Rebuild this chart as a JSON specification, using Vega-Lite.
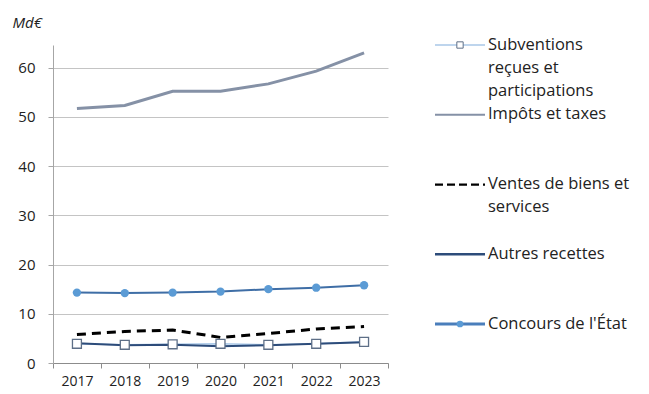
{
  "$schema": "https://vega.github.io/schema/vega-lite/v6.json",
  "padding": {"left": 12, "top": 15, "right": 0, "bottom": 0},
  "background": "white",
  "config": {"view": {"stroke": null}, "font": "Open Sans", "concat": {"spacing": 44}},
  "datasets": {
    "main": [
      {"year": "2017", "series": "Impôts et taxes", "value": 51.7},
      {"year": "2018", "series": "Impôts et taxes", "value": 52.3},
      {"year": "2019", "series": "Impôts et taxes", "value": 55.2},
      {"year": "2020", "series": "Impôts et taxes", "value": 55.2},
      {"year": "2021", "series": "Impôts et taxes", "value": 56.7},
      {"year": "2022", "series": "Impôts et taxes", "value": 59.3},
      {"year": "2023", "series": "Impôts et taxes", "value": 63.0},
      {"year": "2017", "series": "Concours de l'État", "value": 14.3},
      {"year": "2018", "series": "Concours de l'État", "value": 14.2},
      {"year": "2019", "series": "Concours de l'État", "value": 14.3},
      {"year": "2020", "series": "Concours de l'État", "value": 14.5},
      {"year": "2021", "series": "Concours de l'État", "value": 15.0},
      {"year": "2022", "series": "Concours de l'État", "value": 15.3},
      {"year": "2023", "series": "Concours de l'État", "value": 15.8},
      {"year": "2017", "series": "Ventes de biens et services", "value": 5.8},
      {"year": "2018", "series": "Ventes de biens et services", "value": 6.4},
      {"year": "2019", "series": "Ventes de biens et services", "value": 6.7},
      {"year": "2020", "series": "Ventes de biens et services", "value": 5.2},
      {"year": "2021", "series": "Ventes de biens et services", "value": 6.0},
      {"year": "2022", "series": "Ventes de biens et services", "value": 6.9},
      {"year": "2023", "series": "Ventes de biens et services", "value": 7.4},
      {"year": "2017", "series": "Autres recettes", "value": 4.0},
      {"year": "2018", "series": "Autres recettes", "value": 3.6},
      {"year": "2019", "series": "Autres recettes", "value": 3.7},
      {"year": "2020", "series": "Autres recettes", "value": 3.4},
      {"year": "2021", "series": "Autres recettes", "value": 3.6},
      {"year": "2022", "series": "Autres recettes", "value": 3.9},
      {"year": "2023", "series": "Autres recettes", "value": 4.2},
      {"year": "2017", "series": "Subventions reçues et participations", "value": 3.9},
      {"year": "2018", "series": "Subventions reçues et participations", "value": 3.7},
      {"year": "2019", "series": "Subventions reçues et participations", "value": 3.8},
      {"year": "2020", "series": "Subventions reçues et participations", "value": 3.9},
      {"year": "2021", "series": "Subventions reçues et participations", "value": 3.7},
      {"year": "2022", "series": "Subventions reçues et participations", "value": 3.9},
      {"year": "2023", "series": "Subventions reçues et participations", "value": 4.3}
    ],
    "legend": [
      {"series": "Subventions reçues et participations", "label": "Subventions\nreçues et\nparticipations"},
      {"series": "Impôts et taxes", "label": "Impôts et taxes"},
      {"series": "Ventes de biens et services", "label": "Ventes de biens et\nservices"},
      {"series": "Autres recettes", "label": "Autres recettes"},
      {"series": "Concours de l'État", "label": "Concours de l'État"}
    ]
  },
  "hconcat": [
    {
      "width": 335,
      "height": 318,
      "data": {"name": "main"},
      "encoding": {
        "x": {
          "field": "year", "type": "ordinal",
          "scale": {"type": "band", "paddingInner": 0, "paddingOuter": 0},
          "bandPosition": 0.5,
          "axis": {
            "title": null, "labelAngle": 0, "tickBand": "extent",
            "labelFontSize": 14, "labelColor": "#222222", "labelPadding": 6,
            "domainColor": "#8C8C8C", "tickColor": "#8C8C8C", "tickSize": 5, "grid": false
          }
        },
        "y": {
          "field": "value", "type": "quantitative",
          "scale": {"domain": [0, 64.6], "nice": false, "zero": true},
          "axis": {
            "title": "Md€", "titleAngle": 0, "titleAlign": "left", "titleBaseline": "top",
            "titleX": -41, "titleY": -30, "titleFontStyle": "italic", "titleFontWeight": "normal",
            "titleFontSize": 15, "titleColor": "#222222",
            "values": [0, 10, 20, 30, 40, 50, 60],
            "labelFontSize": 15, "labelColor": "#222222", "labelPadding": 13,
            "tickSize": 5, "tickColor": "#A6A6A6", "domainColor": "#A6A6A6",
            "gridColor": "#C4C4C4", "gridWidth": 1
          }
        }
      },
      "layer": [
        {
          "transform": [{"filter": "datum.series === 'Impôts et taxes'"}],
          "mark": {"type": "line", "color": "#8591A6", "strokeWidth": 3}
        },
        {
          "transform": [{"filter": "datum.series === 'Subventions reçues et participations'"}],
          "mark": {"type": "line", "color": "#A9C8E8", "strokeWidth": 1.5}
        },
        {
          "transform": [{"filter": "datum.series === 'Autres recettes'"}],
          "mark": {"type": "line", "color": "#2D4C7A", "strokeWidth": 2}
        },
        {
          "transform": [{"filter": "datum.series === 'Ventes de biens et services'"}],
          "mark": {"type": "line", "color": "#000000", "strokeWidth": 3, "strokeDash": [9, 6]}
        },
        {
          "transform": [{"filter": "datum.series === 'Concours de l\\'État'"}],
          "mark": {"type": "line", "color": "#3F6EA6", "strokeWidth": 2}
        },
        {
          "transform": [{"filter": "datum.series === 'Concours de l\\'État'"}],
          "mark": {"type": "point", "shape": "circle", "filled": true, "color": "#5B9BD5", "size": 70, "opacity": 1}
        },
        {
          "transform": [{"filter": "datum.series === 'Subventions reçues et participations'"}],
          "mark": {"type": "point", "shape": "square", "filled": false, "fill": "white", "fillOpacity": 1, "stroke": "#5E6F87", "strokeWidth": 1.3, "size": 80, "opacity": 1}
        }
      ]
    },
    {
      "width": 217,
      "height": 279,
      "data": {"name": "legend"},
      "encoding": {
        "y": {
          "field": "series", "type": "nominal",
          "sort": ["Subventions reçues et participations", "Impôts et taxes", "Ventes de biens et services", "Autres recettes", "Concours de l'État"],
          "scale": {"type": "point", "padding": 0},
          "axis": null
        }
      },
      "layer": [
        {
          "mark": {"type": "rule"},
          "encoding": {
            "x": {"datum": 0, "type": "quantitative", "scale": {"domain": [0, 217], "nice": false}, "axis": null},
            "x2": {"datum": 50},
            "color": {
              "field": "series", "type": "nominal", "legend": null,
              "scale": {
                "domain": ["Subventions reçues et participations", "Impôts et taxes", "Ventes de biens et services", "Autres recettes", "Concours de l'État"],
                "range": ["#A9C8E8", "#8591A6", "#000000", "#2D4C7A", "#4A7EBB"]
              }
            },
            "strokeWidth": {
              "field": "series", "type": "nominal", "legend": null,
              "scale": {
                "domain": ["Subventions reçues et participations", "Impôts et taxes", "Ventes de biens et services", "Autres recettes", "Concours de l'État"],
                "range": [1.5, 3, 3, 2, 2]
              }
            },
            "strokeDash": {
              "field": "series", "type": "nominal", "legend": null,
              "scale": {
                "domain": ["Subventions reçues et participations", "Impôts et taxes", "Ventes de biens et services", "Autres recettes", "Concours de l'État"],
                "range": [[1, 0], [1, 0], [8, 4], [1, 0], [1, 0]]
              }
            }
          }
        },
        {
          "transform": [{"filter": "datum.series === 'Subventions reçues et participations'"}],
          "mark": {"type": "point", "shape": "square", "filled": false, "fill": "white", "fillOpacity": 1, "stroke": "#5E6F87", "strokeWidth": 1, "size": 40, "opacity": 1},
          "encoding": {"x": {"datum": 25, "type": "quantitative"}}
        },
        {
          "transform": [{"filter": "datum.series === 'Concours de l\\'État'"}],
          "mark": {"type": "point", "shape": "circle", "filled": true, "color": "#5B9BD5", "size": 45, "opacity": 1},
          "encoding": {"x": {"datum": 25, "type": "quantitative"}}
        },
        {
          "mark": {"type": "text", "align": "left", "baseline": "line-top", "dy": -11.5, "lineBreak": "\n", "lineHeight": 23, "fontSize": 16.5, "color": "#222222", "font": "Open Sans"},
          "encoding": {
            "x": {"datum": 53, "type": "quantitative"},
            "text": {"field": "label", "type": "nominal"}
          }
        }
      ]
    }
  ],
  "resolve": {"scale": {"x": "independent", "y": "independent", "color": "independent"}}
}
